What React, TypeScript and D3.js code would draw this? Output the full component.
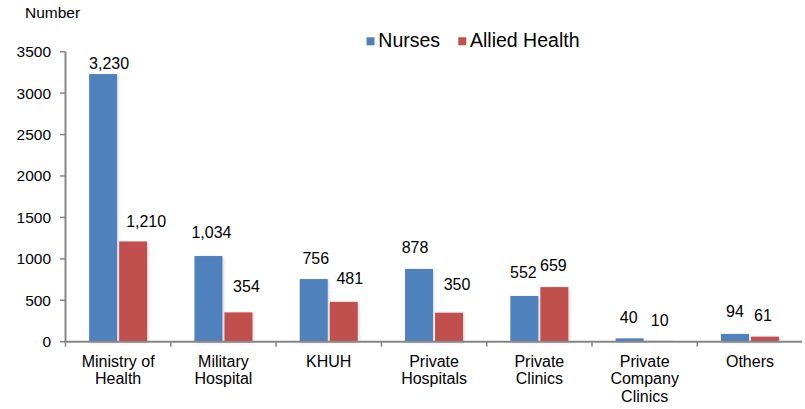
import React from "react";
import * as d3 from "d3";

const categories: string[][] = [
  ["Ministry of", "Health"],
  ["Military", "Hospital"],
  ["KHUH"],
  ["Private", "Hospitals"],
  ["Private", "Clinics"],
  ["Private", "Company", "Clinics"],
  ["Others"],
];
const seriesNames = ["Nurses", "Allied Health"];
const nurses = [3230, 1034, 756, 878, 552, 40, 94];
const allied = [1210, 354, 481, 350, 659, 10, 61];
const yTicks = [0, 500, 1000, 1500, 2000, 2500, 3000, 3500];

// layout-only nudges for value labels [dx, dy] relative to bar center / bar top
const nurseNudge = [[6, -5], [3, -18], [2, -15], [-4, -16], [-1, -18], [-1, -15], [0, -16.5]];
const alliedNudge = [[13, -14], [8, -20], [6, -18], [8, -23], [-1, -16], [0, -15], [-2, -16]];

const colors = ["#4F81BD", "#C0504D"];
const FONT = "'Liberation Sans', Arial, sans-serif";

export default function App() {
  const W = 805, H = 409;
  const x0 = d3.scaleBand<number>().domain(categories.map((_, i) => i)).range([65.5, 802.6]).padding(0);
  const bw = x0.bandwidth();
  const x1 = d3.scaleBand<string>().domain(seriesNames).range([bw / 2 - 29, bw / 2 + 29]).paddingInner(0.067);
  const y = d3.scaleLinear().domain([0, 3500]).range([341.7, 51.7]);
  const fmt = d3.format(",");
  const data = [nurses, allied];
  const nudges = [nurseNudge, alliedNudge];
  const axisColor = "#868686";

  return (
    <svg width={W} height={H} style={{ position: "absolute", left: 0, top: 0, background: "#fff" }} fontFamily={FONT}>
      <defs>
        <filter id="sh" x="-30%" y="-30%" width="160%" height="160%">
          <feDropShadow dx="1" dy="1" stdDeviation="1.5" floodColor="#000" floodOpacity="0.18" />
        </filter>
      </defs>
      <rect x={0} y={0} width={W} height={H} fill="#fff" />
      <text x={25} y={18} fontSize={15.5} fill="#000">Number</text>

      {/* y axis */}
      <line x1={65.5} x2={65.5} y1={y(3500)} y2={y(0)} stroke={axisColor} strokeWidth={2} />
      {yTicks.map((t) => (
        <g key={t}>
          <line x1={60} x2={65.5} y1={y(t)} y2={y(t)} stroke={axisColor} strokeWidth={1.5} />
          <text x={51} y={y(t) + 5.5} fontSize={15.5} textAnchor="end" fill="#000">{t}</text>
        </g>
      ))}

      {/* bars */}
      {data.map((vals, s) =>
        vals.map((v, i) => {
          const bx = (x0(i) as number) + (x1(seriesNames[s]) as number);
          return (
            <rect key={`b${s}-${i}`} x={bx} y={y(v)} width={x1.bandwidth()} height={y(0) - y(v)}
              fill={colors[s]} filter="url(#sh)" />
          );
        })
      )}

      {/* x axis */}
      <line x1={64.5} x2={802} y1={y(0)} y2={y(0)} stroke={axisColor} strokeWidth={2} />
      {d3.range(categories.length).map((i) => (
        <line key={`t${i}`} x1={x0(i) as number} x2={x0(i) as number} y1={y(0)} y2={y(0) + 5} stroke={axisColor} strokeWidth={1.5} />
      ))}

      {/* value labels */}
      {data.map((vals, s) =>
        vals.map((v, i) => {
          const cx = (x0(i) as number) + (x1(seriesNames[s]) as number) + x1.bandwidth() / 2;
          const [dx, dy] = nudges[s][i];
          return (
            <text key={`l${s}-${i}`} x={cx + dx} y={y(v) + dy} fontSize={16} textAnchor="middle" fill="#000">
              {fmt(v)}
            </text>
          );
        })
      )}

      {/* category labels */}
      {categories.map((lines, i) => (
        <text key={`c${i}`} x={(x0(i) as number) + bw / 2} y={366.5} fontSize={16} textAnchor="middle" fill="#000">
          {lines.map((ln, k) => (
            <tspan key={k} x={(x0(i) as number) + bw / 2} dy={k === 0 ? 0 : 17.7}>{ln}</tspan>
          ))}
        </text>
      ))}

      {/* legend */}
      <rect x={366.5} y={37.3} width={8} height={8} fill={colors[0]} />
      <text x={378.3} y={46.7} fontSize={19.5} fill="#000">{seriesNames[0]}</text>
      <rect x={458.3} y={37.3} width={8} height={8} fill={colors[1]} />
      <text x={470} y={46.7} fontSize={19.5} fill="#000">{seriesNames[1]}</text>
    </svg>
  );
}
